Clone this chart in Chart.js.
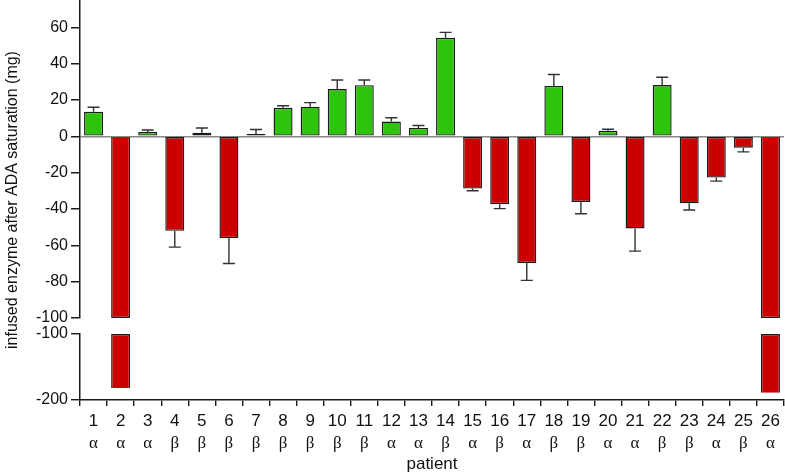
<!DOCTYPE html>
<html>
<head>
<meta charset="utf-8">
<script src="https://cdn.jsdelivr.net/npm/chart.js@4.4.0/dist/chart.umd.min.js"></script>
<style>
  html, body { margin: 0; padding: 0; background: #fff; }
  #wrap { width: 785px; height: 475px; }
</style>
</head>
<body>
<div id="wrap"><canvas id="enzymeChart"></canvas></div>
<script>
// patient numbers and ADA subtype shown under each bar
const patients = ['1','2','3','4','5','6','7','8','9','10','11','12','13','14','15','16','17','18','19','20','21','22','23','24','25','26'];
const subtypes = ['α','α','α','β','β','β','β','β','β','β','β','α','α','β','α','β','α','β','β','α','α','β','β','α','β','α'];

// infused enzyme after ADA saturation (mg), mean and error
const enzymeMean = [13.5, -182, 2.4, -52, 1.9, -56, 1.3, 15.7, 16.3, 26.0, 28.1, 8.1, 4.6, 54.2, -28.8, -37.4, -69.7, 27.7, -36.1, 3.0, -50.7, 28.2, -36.9, -22.7, -6.3, -189];
const enzymeErr = [2.5, 0, 1.1, 9, 2.7, 14, 2.4, 1.1, 2.2, 5.0, 2.9, 2.1, 1.3, 3.0, 1.2, 2.4, 9.6, 6.3, 6.5, 0.9, 12.5, 4.3, 3.7, 2.0, 2.3, 0];

// broken axis: upper part down to -100, lower part -100..-200
const breakAt = -100;
const upperTicks = [-100, -80, -60, -40, -20, 0, 20, 40, 60];
const lowerTicks = [-200, -100];

const GREEN = '#2ec40c';
const RED = '#cc0000';
const INK = '#1a1a1a';
const FONT = "'Liberation Sans', Arial, Helvetica, sans-serif";

const upperData = enzymeMean.map(v => Math.max(v, breakAt));
const lowerData = enzymeMean.map(v => v < breakAt ? [breakAt, v] : null);
const barColors = enzymeMean.map(v => v >= 0 ? GREEN : RED);

const errorBars = {
    id: 'errorBars',
    afterDatasetsDraw(chart) {
        const ctx = chart.ctx;
        const xs = chart.scales.x;
        ctx.save();
        ctx.strokeStyle = '#333';
        ctx.lineWidth = 1.4;
        enzymeMean.forEach((v, i) => {
            const e = enzymeErr[i];
            if (!e) return;
            const end = v >= 0 ? v + e : v - e;
            const ys = end < breakAt ? chart.scales.yLow : chart.scales.y;
            const x = xs.getPixelForValue(i);
            const y0 = chart.scales.y.getPixelForValue(v);
            const y1 = ys.getPixelForValue(end);
            ctx.beginPath();
            ctx.moveTo(x, y0);
            ctx.lineTo(x, y1);
            ctx.moveTo(x - 6, y1);
            ctx.lineTo(x + 6, y1);
            ctx.stroke();
        });
        ctx.restore();
    }
};

// y title spans both parts of the broken axis
const yTitle = {
    id: 'yTitle',
    afterDraw(chart) {
        const ctx = chart.ctx;
        const a = chart.chartArea;
        ctx.save();
        ctx.translate(13, (a.top + a.bottom) / 2);
        ctx.rotate(-Math.PI / 2);
        ctx.font = '16px ' + FONT;
        ctx.fillStyle = '#111';
        ctx.textAlign = 'center';
        ctx.textBaseline = 'middle';
        ctx.fillText('infused enzyme after ADA saturation (mg)', 0, 0);
        ctx.restore();
    }
};

// fixed axis width, and no extra room for the end labels
const fixWidth = s => { s.width = 80; s.paddingTop = 0; s.paddingBottom = 0; };

new Chart('enzymeChart', {
    type: 'bar',
    data: {
        labels: patients,
        datasets: [{
            data: upperData,
            yAxisID: 'y',
            backgroundColor: barColors,
            borderColor: INK,
            borderWidth: 1.4,
            borderSkipped: ctx => enzymeMean[ctx.dataIndex] < breakAt ? 'bottom' : false,
            grouped: false,
            barPercentage: 0.7,
            categoryPercentage: 1
        }, {
            data: lowerData,
            yAxisID: 'yLow',
            backgroundColor: RED,
            borderColor: INK,
            borderWidth: 1.4,
            borderSkipped: 'top',
            grouped: false,
            barPercentage: 0.7,
            categoryPercentage: 1
        }]
    },
    options: {
        responsive: true,
        maintainAspectRatio: false,
        animation: false,
        layout: { padding: { top: 0, left: 0, right: 1, bottom: 0 } },
        plugins: { legend: { display: false }, tooltip: { enabled: false } },
        scales: {
            x: {
                position: 'bottom',
                offset: true,
                grid: { display: true, drawOnChartArea: false, tickLength: 6, tickColor: INK, lineWidth: 1.4 },
                border: { color: INK, width: 1.5 },
                ticks: { color: '#111', font: { family: FONT, size: 17 }, padding: 5, maxRotation: 0, autoSkip: false },
                afterFit: s => { s.height = 32; }
            },
            x2: {
                type: 'category',
                position: 'bottom',
                labels: subtypes,
                offset: true,
                grid: { display: false, drawTicks: false },
                border: { display: false },
                ticks: { color: '#111', font: { family: "'Liberation Serif', 'Times New Roman', serif", size: 17 }, padding: 1, maxRotation: 0, autoSkip: false },
                title: { display: true, text: 'patient', color: '#111', font: { family: FONT, size: 17 }, padding: { top: 0, bottom: 0 } },
                afterFit: s => { s.height = 43; }
            },
            yLow: {
                axis: 'y',
                type: 'linear',
                position: 'left',
                stack: 'broken',
                stackWeight: 66,
                min: -200,
                max: -100,
                afterBuildTicks: s => { s.ticks = lowerTicks.map(v => ({ value: v })); },
                grid: { drawOnChartArea: false, tickLength: 9, tickColor: INK, lineWidth: 1.4 },
                border: { color: INK, width: 1.5 },
                ticks: { color: '#111', font: { family: FONT, size: 16 }, padding: 3 },
                afterFit: fixWidth
            },
            yGap: {
                axis: 'y',
                type: 'linear',
                position: 'left',
                stack: 'broken',
                stackWeight: 16,
                min: 0,
                max: 1,
                grid: { display: false, drawTicks: false },
                border: { display: false },
                ticks: { display: false },
                afterFit: fixWidth
            },
            y: {
                axis: 'y',
                type: 'linear',
                position: 'left',
                stack: 'broken',
                stackWeight: 318,
                min: -100,
                max: 75,
                afterBuildTicks: s => { s.ticks = upperTicks.map(v => ({ value: v })); },
                grid: {
                    color: ctx => ctx.tick && ctx.tick.value === 0 ? '#888' : 'rgba(0,0,0,0)',
                    lineWidth: 1.5,
                    tickLength: 9,
                    tickColor: INK
                },
                border: { color: INK, width: 1.5 },
                ticks: { color: '#111', font: { family: FONT, size: 16 }, padding: 3 },
                afterFit: fixWidth
            }
        }
    },
    plugins: [errorBars, yTitle]
});
</script>
</body>
</html>
